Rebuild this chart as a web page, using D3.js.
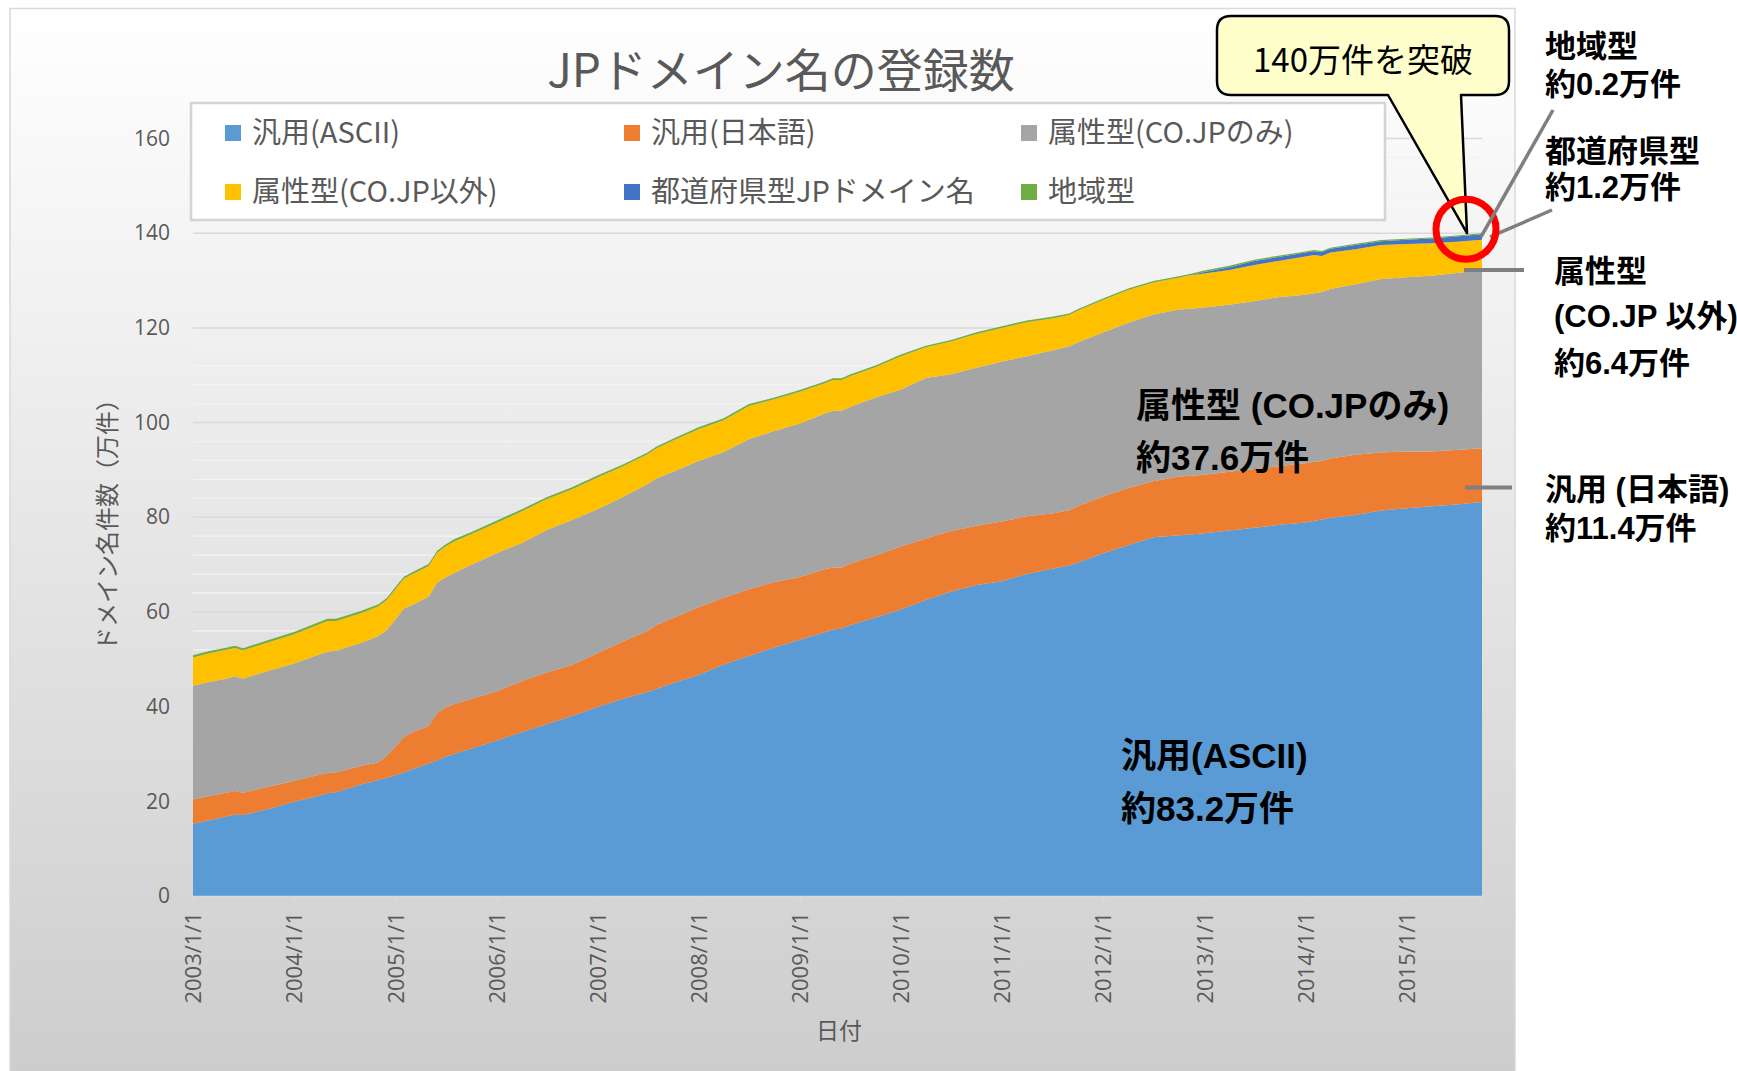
<!DOCTYPE html>
<html><head><meta charset="utf-8">
<script src="https://cdn.jsdelivr.net/npm/d3@7/dist/d3.min.js"></script>
<style>html,body{margin:0;padding:0;background:#fff;}svg{display:block;}</style>
</head><body>
<svg id="chart" width="1737" height="1071"></svg>
<script>
// ---------- DATA (万件) ----------
const dates = ["2003/1/1","2003/3/1","2003/5/1","2003/6/1","2003/7/1","2003/10/1","2004/1/1","2004/4/1","2004/5/1","2004/6/1",
"2004/9/1","2004/11/1","2004/12/1","2005/1/1","2005/2/1","2005/3/1","2005/5/1","2005/6/1","2005/7/1","2005/8/1",
"2005/10/1","2006/1/1","2006/4/1","2006/7/1","2006/10/1","2007/1/1","2007/4/1","2007/7/1","2007/8/1","2007/10/1",
"2008/1/1","2008/4/1","2008/7/1","2008/10/1","2009/1/1","2009/4/1","2009/5/1","2009/6/1","2009/7/1","2009/10/1",
"2010/1/1","2010/4/1","2010/7/1","2010/10/1","2011/1/1","2011/4/1","2011/7/1","2011/9/1","2011/10/1","2012/1/1",
"2012/4/1","2012/7/1","2012/10/1","2012/11/1","2013/1/1","2013/4/1","2013/7/1","2013/10/1","2014/1/1","2014/2/1",
"2014/3/1","2014/4/1","2014/7/1","2014/10/1","2015/1/1","2015/4/1","2015/7/1","2015/10/1"];
const asciiGeneric = [15.2,16.0,16.8,17.2,17.1,18.4,19.9,21.2,21.7,21.9,23.6,24.5,25.0,25.5,26.1,26.7,28.0,28.6,29.4,30.0,
31.1,32.8,34.6,36.3,38.0,39.9,41.6,43.1,43.7,45.0,46.7,48.9,50.7,52.5,54.1,55.7,56.3,56.5,57.2,58.8,
60.5,62.5,64.3,65.7,66.5,68.0,69.1,69.8,70.4,72.4,74.1,75.8,76.2,76.3,76.6,77.2,77.8,78.4,78.9,79.2,
79.5,79.9,80.5,81.4,81.9,82.3,82.7,83.2];
const jpGeneric = [5.2,5.1,5.0,5.0,4.7,4.7,4.4,4.4,4.3,4.2,3.9,3.7,4.6,6.0,7.5,7.8,7.9,10.0,10.4,10.5,
10.5,10.4,10.7,10.9,10.8,11.4,12.1,12.9,13.5,13.7,14.3,14.1,14.1,13.8,13.3,13.3,13.1,12.9,13.0,13.1,
13.3,13.0,12.8,12.5,12.6,12.2,11.7,11.7,11.9,12.0,12.1,11.8,12.4,12.4,12.4,12.4,12.4,12.4,12.5,12.5,
12.4,12.5,12.7,12.3,12.0,11.6,11.5,11.4];
const coJp = [24.0,24.1,24.1,24.2,24.1,24.5,24.8,25.4,25.6,25.7,26.0,26.7,26.6,26.9,27.1,26.9,27.3,27.6,27.5,27.7,
28.3,29.2,29.2,30.1,30.6,30.4,30.5,31.0,31.0,30.9,30.9,30.8,31.7,31.9,32.4,32.9,33.1,33.1,33.1,33.4,
33.2,33.9,33.1,33.4,33.8,33.8,34.4,34.6,34.6,34.6,34.9,35.2,35.3,35.3,35.3,35.3,35.5,35.7,35.6,35.6,
35.7,35.8,36.0,36.6,36.8,37.1,37.4,37.6];
const otherAttr = [6.0,6.1,6.1,6.0,6.0,6.0,6.2,6.4,6.5,6.3,6.3,6.3,6.3,6.4,6.3,6.5,6.5,6.3,6.5,6.7,
6.5,6.4,6.7,6.5,6.5,6.7,6.5,6.3,6.3,6.6,6.7,6.7,7.0,6.7,6.7,6.4,6.5,6.5,6.5,6.4,
7.0,6.5,6.9,7.1,7.1,7.2,6.8,6.6,6.7,6.9,6.9,6.8,6.7,7.0,7.2,7.3,7.6,7.7,8.1,8.1,
7.6,7.7,7.4,7.2,7.0,6.9,6.6,6.4];
const prefecture = [0,0,0,0,0,0,0,0,0,0,0,0,0,0,0,0,0,0,0,0,
0,0,0,0,0,0,0,0,0,0,0,0,0,0,0,0,0,0,0,0,
0,0,0,0,0,0,0,0,0,0,0,0,0,0,0.3,0.6,0.8,0.8,0.8,0.8,
0.8,0.8,0.9,0.8,0.9,1.0,1.1,1.2];
const regional = [0.45,0.45,0.45,0.45,0.45,0.45,0.45,0.45,0.45,0.45,0.45,0.45,0.45,0.45,0.45,0.45,0.45,0.45,0.45,0.45,
0.45,0.45,0.45,0.45,0.45,0.4,0.4,0.4,0.4,0.4,0.4,0.4,0.4,0.4,0.4,0.35,0.35,0.35,0.35,0.35,
0.35,0.35,0.35,0.35,0.35,0.35,0.35,0.35,0.35,0.3,0.3,0.3,0.3,0.3,0.3,0.3,0.3,0.3,0.25,0.25,
0.25,0.25,0.25,0.25,0.2,0.2,0.2,0.2];
const seriesNames = ["汎用(ASCII)","汎用(日本語)","属性型(CO.JPのみ)","属性型(CO.JP以外)","都道府県型JPドメイン名","地域型"];
const seriesColors = ["#5B9BD5","#ED7D31","#A5A5A5","#FFC000","#4472C4","#70AD47"];
const yTicks = [0,20,40,60,80,100,120,140,160];
const xTickLabels = ["2003/1/1","2004/1/1","2005/1/1","2006/1/1","2007/1/1","2008/1/1","2009/1/1","2010/1/1","2011/1/1","2012/1/1","2013/1/1","2014/1/1","2015/1/1"];
const titleText = "JPドメイン名の登録数";
const yTitle = "ドメイン名件数（万件）";
const xTitle = "日付";

// ---------- SETUP ----------
const parse = d3.timeParse("%Y/%m/%d");
const seriesArrays = [asciiGeneric, jpGeneric, coJp, otherAttr, prefecture, regional];
const keys = seriesNames;
const rows = dates.map((d,i)=>{const r={date:parse(d)}; keys.forEach((k,j)=>r[k]=seriesArrays[j][i]); return r;});
const stacked = d3.stack().keys(keys)(rows);

const svg = d3.select("#chart");
const W = 1737, H = 1071;
const plot = {l:193, r:1482, t:138.5, b:896};
const x = d3.scaleTime().domain([rows[0].date, rows[rows.length-1].date]).range([plot.l, plot.r]);
const y = d3.scaleLinear().domain([0,160]).range([plot.b, plot.t]);
const FONT = "'Open Sans','Noto Sans CJK JP',sans-serif";
const CJK = "'Noto Sans CJK JP','Open Sans',sans-serif";
const BOLD = "'Liberation Sans','Noto Sans CJK JP',sans-serif";
const grayText = "#595959";

const defs = svg.append("defs");
const grad = defs.append("linearGradient").attr("id","bg").attr("gradientUnits","userSpaceOnUse")
  .attr("x1",0).attr("y1",9).attr("x2",0).attr("y2",1071);
grad.append("stop").attr("offset","0").attr("stop-color","#ffffff");
grad.append("stop").attr("offset","1").attr("stop-color","#cdcdcd");

svg.append("rect").attr("width",W).attr("height",H).attr("fill","#fff");
svg.append("rect").attr("x",10).attr("y",8.5).attr("width",1505).attr("height",1075)
  .attr("fill","url(#bg)").attr("stroke","#d9d9d9").attr("stroke-width",1.5);

// gridlines
const minor = d3.range(4,161,4).filter(v=>v%20!==0);
svg.append("g").selectAll("line").data(minor).join("line")
  .attr("x1",plot.l).attr("x2",plot.r).attr("y1",d=>y(d)).attr("y2",d=>y(d))
  .attr("stroke","#f3f3f3").attr("stroke-width",1.3);
svg.append("g").selectAll("line").data(yTicks.filter(v=>v>0)).join("line")
  .attr("x1",plot.l).attr("x2",plot.r).attr("y1",d=>y(d)).attr("y2",d=>y(d))
  .attr("stroke","#d9d9d9").attr("stroke-width",1.5);

// areas
const area = d3.area().x(d=>x(d.data.date)).y0(d=>y(d[0])).y1(d=>y(d[1]));
svg.append("g").selectAll("path").data(stacked).join("path")
  .attr("d",area).attr("fill",(d,i)=>seriesColors[i]);

// x axis
const xAxis = d3.axisBottom(x).tickValues(xTickLabels.map(parse)).tickSize(7).tickFormat(d3.timeFormat("%Y/%-m/%-d"));
const gx = svg.append("g").attr("transform",`translate(0,${plot.b})`).call(xAxis);
gx.select(".domain").attr("stroke","#d9d9d9").attr("stroke-width",1.5);
gx.selectAll(".tick line").attr("stroke","#d9d9d9").attr("stroke-width",1.5);
gx.selectAll(".tick text").attr("transform","rotate(-90)").attr("x",-16).attr("y",0).attr("dy","0.35em")
  .attr("text-anchor","end").attr("fill",grayText).style("font-family",FONT).style("font-size","22px");

// y axis labels
const yAxis = d3.axisLeft(y).tickValues(yTicks).tickSize(0).tickPadding(0);
const gy = svg.append("g").attr("transform",`translate(170,0)`).call(yAxis);
gy.select(".domain").remove();
gy.selectAll(".tick text").attr("fill",grayText).style("font-family",FONT).style("font-size","21px");

// axis titles
svg.append("text").attr("transform","translate(108,519) rotate(-90)").attr("text-anchor","middle")
  .attr("dy","0.35em").attr("fill",grayText).style("font-family",CJK).style("font-size","24px").text(yTitle);
svg.append("text").attr("x",839).attr("y",1039).attr("text-anchor","middle")
  .attr("fill",grayText).style("font-family",CJK).style("font-size","23px").text(xTitle);

// title
svg.append("text").attr("x",781).attr("y",87).attr("text-anchor","middle")
  .attr("fill",grayText).style("font-family",CJK).style("font-size","46px").text(titleText);

// legend
svg.append("rect").attr("x",191).attr("y",103).attr("width",1194).attr("height",117)
  .attr("fill","#fff").attr("stroke","#d4d4d4").attr("stroke-width",2.5);
const colX = [225,624,1021], rowY = [133,192];
const lg = svg.append("g").selectAll("g").data(seriesNames).join("g")
  .attr("transform",(d,i)=>`translate(${colX[i%3]},${rowY[Math.floor(i/3)]})`);
lg.append("rect").attr("x",0).attr("y",-8).attr("width",16).attr("height",16).attr("fill",(d,i)=>seriesColors[i]);
lg.append("text").attr("x",27).attr("dy","0.36em").attr("fill",grayText)
  .style("font-family",CJK).style("font-size","29px").text(d=>d);

// ---------- annotations ----------
const lastX = x(rows[rows.length-1].date);
const tipX = lastX - 15, tipY = y(140);
// callout
const bx0=1217, bx1=1509, by0=16, by1=95, rr=14;
const callout = `M${bx0+rr},${by0} H${bx1-rr} Q${bx1},${by0} ${bx1},${by0+rr} V${by1-rr} Q${bx1},${by1} ${bx1-rr},${by1}
 H${tipX-6} L${tipX},${tipY} L1388,${by1} H${bx0+rr} Q${bx0},${by1} ${bx0},${by1-rr} V${by0+rr} Q${bx0},${by0} ${bx0+rr},${by0} Z`;
svg.append("path").attr("d",callout).attr("fill","#ffffcc").attr("stroke","#000").attr("stroke-width",2.5).attr("stroke-linejoin","round");
svg.append("text").attr("x",1363).attr("y",72).attr("text-anchor","middle").attr("fill","#000")
  .style("font-family",CJK).style("font-size","33px").text("140万件を突破");

// leader lines
const leader = "#7f7f7f";
svg.append("line").attr("x1",1552).attr("y1",210).attr("x2",lastX+8).attr("y2",y(139.2)).attr("stroke",leader).attr("stroke-width",3.5);
svg.append("circle").attr("cx",lastX-16).attr("cy",y(140)-4).attr("r",30).attr("fill","none").attr("stroke","#ff0000").attr("stroke-width",7);
svg.append("line").attr("x1",1553).attr("y1",110).attr("x2",lastX-1).attr("y2",y(139.2)).attr("stroke",leader).attr("stroke-width",3.5);
svg.append("line").attr("x1",lastX-18).attr("x2",1524).attr("y1",y(132.2)).attr("y2",y(132.2)).attr("stroke",leader).attr("stroke-width",4);
svg.append("line").attr("x1",lastX-17).attr("x2",1512).attr("y1",y(86.3)).attr("y2",y(86.3)).attr("stroke",leader).attr("stroke-width",4);

const ann = [
  {t:"地域型",x:1545,y:57},{t:"約0.2万件",x:1545,y:95},
  {t:"都道府県型",x:1545,y:162},{t:"約1.2万件",x:1545,y:198},
  {t:"属性型",x:1554,y:282},{t:"(CO.JP 以外)",x:1554,y:327},{t:"約6.4万件",x:1554,y:374},
  {t:"汎用 (日本語)",x:1545,y:500},{t:"約11.4万件",x:1545,y:539}
];
svg.append("g").selectAll("text").data(ann).join("text").attr("x",d=>d.x).attr("y",d=>d.y)
  .attr("fill","#000").style("font-family",BOLD).style("font-weight","bold").style("font-size","31px").text(d=>d.t);
const annIn = [
  {t:"属性型 (CO.JPのみ)",x:1136,y:418},{t:"約37.6万件",x:1136,y:470},
  {t:"汎用(ASCII)",x:1121,y:768},{t:"約83.2万件",x:1121,y:821}
];
svg.append("g").selectAll("text").data(annIn).join("text").attr("x",d=>d.x).attr("y",d=>d.y)
  .attr("fill","#000").style("font-family",BOLD).style("font-weight","bold").style("font-size","35px").text(d=>d.t);
</script>
</body></html>
